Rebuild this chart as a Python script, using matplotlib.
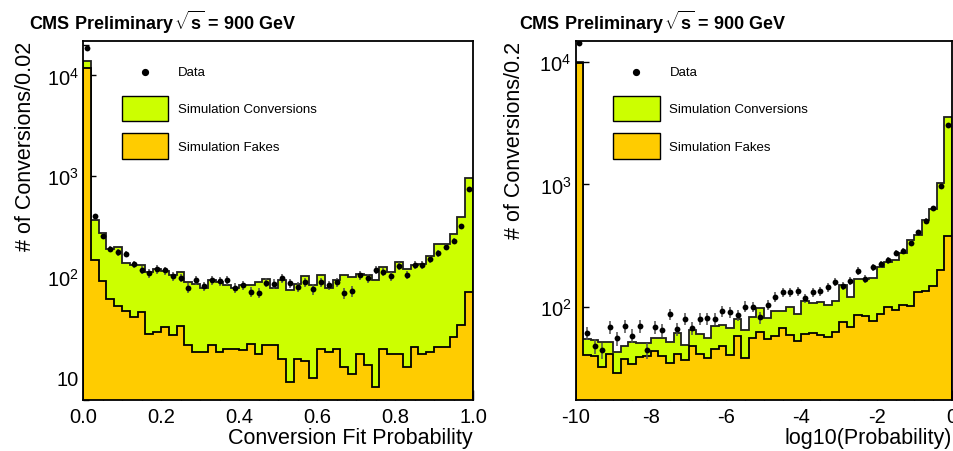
import numpy as np
import matplotlib
matplotlib.use("Agg")
import matplotlib.pyplot as plt
from matplotlib.patches import Patch
from matplotlib.lines import Line2D
from matplotlib.legend_handler import HandlerLine2D
from matplotlib.ticker import (FuncFormatter, MultipleLocator,
                               LogLocator, NullFormatter)

plt.rcParams['font.family'] = ['Liberation Sans', 'DejaVu Sans']
plt.rcParams['mathtext.fontset'] = 'custom'
plt.rcParams['mathtext.rm'] = 'Liberation Sans'
plt.rcParams['mathtext.it'] = 'Liberation Sans:italic'
plt.rcParams['mathtext.bf'] = 'Liberation Sans:bold'
plt.rcParams['axes.unicode_minus'] = False

# ---------------- data: left panel (Conversion Fit Probability, 50 bins 0..1)
left_range = (0.0, 1.0)
left_total = [13900, 366, 270, 191, 199, 139, 132, 132, 113, 119,
              115, 104, 111, 89, 86, 77, 93, 89, 83, 78,
              83, 83, 89, 95, 77, 93, 75, 86, 101, 84,
              104, 78, 93, 104, 100, 106, 104, 93, 126, 113,
              140, 119, 132, 134, 160, 211, 211, 266, 390, 960]
left_fakes = [11850, 147, 91, 60, 52, 46, 40, 45, 27, 28.4,
              32, 26.5, 32.5, 21, 18.1, 18.1, 21, 18, 19.1, 19.1,
              19, 21.5, 17.3, 21, 21, 15.4, 9.0, 15.4, 14.6, 10.0,
              19.4, 18.1, 19.1, 12.7, 10.9, 17.3, 13.3, 8.1, 19.1, 17.3,
              17.3, 12.7, 20.1, 17.3, 18.1, 20.1, 20.1, 25.3, 33.3, 71.5]
left_data = [18900, 405, 254, 190, 175, 169, 133, 117, 109, 119,
             116, 101, 98, 78, 93, 81, 93, 91, 93, 78,
             83, 71, 70, 88, 86, 97.7, 86.5, 79.5, 89.2, 75.5,
             89.2, 82.7, 89.2, 68.9, 72.1, 104, 97.7, 117, 112, 101,
             128, 105, 131.5, 131.5, 150, 171, 200, 226, 321, 746]

# ---------------- data: right panel (log10(Probability), 50 bins -10..0)
right_range = (-10.0, 0.0)
right_total = [10100, 54.4, 53.7, 51.7, 51.7, 42.4, 48.0, 51.7, 50.5, 50.5,
               55.1, 55.5, 51.7, 61.0, 48.9, 64.9, 59.8, 55.5, 69.0, 71.3,
               66.6, 79.5, 64.5, 82.8, 97.6, 80.4, 92.7, 91.7, 98.9, 87.1,
               110.7, 107.2, 109.9, 103.3, 112, 151.4, 119.4, 168.6, 168.6, 170.6,
               212.4, 230.7, 239.9, 274.9, 353.2, 386.4, 515, 630, 1023, 3548]
right_fakes = [9900, 40.5, 39.7, 31.9, 41.5, 29.0, 37.3, 34.0, 39.2, 39.7,
               43.7, 39.7, 34.6, 41.5, 36.6, 47.4, 41.0, 37.8, 45.0, 48.0,
               40.3, 57.3, 37.8, 55.1, 62.5, 55, 57.3, 66.6, 58.7, 52.2,
               59.4, 60.5, 58.7, 56.2, 61.7, 75.4, 67.8, 85.5, 83.4, 76.8,
               87.1, 98.9, 94.6, 103.3, 100.7, 131, 135, 147, 201, 381]
right_data = [14300, 61.0, 48.0, 44.2, 68.0, 55.1, 69.0, 57.9, 69.8, 44.2,
              68.0, 64.9, 87.1, 65.8, 79.5, 66.8, 79.5, 80.4, 79.5, 92.7,
              90.9, 85.5, 100.5, 100, 81.8, 103.8, 120.8, 131, 131, 133.6,
              117.2, 131, 133.6, 144, 160, 148.5, 163, 196, 168.6, 210,
              223.6, 241, 277, 287, 332, 406, 506, 643, 966, 3083]

title_text = r"CMS Preliminary$\,\mathbf{\sqrt{s}}$ = 900 GeV"
legend_labels = ["Data", "Simulation Conversions", "Simulation Fakes"]

GREEN = '#ccff00'
ORANGE = '#ffcc00'

fig = plt.figure(figsize=(9.54, 4.52), dpi=100)
W, H = 954.0, 452.0
axL = fig.add_axes([83 / W, 1 - 401 / H, 390 / W, 359 / H])
axR = fig.add_axes([575.7 / W, 1 - 401 / H, 376.3 / W, 359 / H])


class DotHandler(HandlerLine2D):
    """Legend dot centred on the text row."""
    def create_artists(self, legend, orig_handle, xdescent, ydescent, width,
                       height, fontsize, trans):
        arts = super().create_artists(legend, orig_handle, xdescent, ydescent,
                                      width, height, fontsize, trans)
        for a in arts:
            a.set_ydata(np.asarray(a.get_ydata(), float) - 0.38 * fontsize)
        return arts


def ylab_fmt(v, pos):
    e = int(round(np.log10(v)))
    if e == 1:
        return "10"
    return r"$10^{%d}$" % e


def draw(ax, rng, total, fakes, data, ylim, xmajor, xminor, xlabel, ylabel,
         ylabx):
    nb = len(total)
    edges = np.linspace(rng[0], rng[1], nb + 1)
    centers = 0.5 * (edges[:-1] + edges[1:])
    total = np.asarray(total, float)
    fakes = np.asarray(fakes, float)
    data = np.asarray(data, float)
    base = ylim[0] * 0.3
    ax.stairs(total, edges, baseline=base, fill=True, color=GREEN, lw=0,
              zorder=1)
    ax.stairs(total, edges, baseline=base, fill=False, color='#202020',
              lw=1.3, zorder=2)
    ax.stairs(fakes, edges, baseline=base, fill=True, color=ORANGE, lw=0,
              zorder=3)
    ax.stairs(fakes, edges, baseline=base, fill=False, color='black',
              lw=1.3, zorder=4)
    ax.errorbar(centers, data, yerr=np.sqrt(data), fmt='o', color='black',
                ms=4.2, mew=0, ecolor='#505050', elinewidth=1.1, capsize=0,
                zorder=6)
    ax.set_yscale('log')
    ax.set_xlim(*rng)
    ax.set_ylim(*ylim)
    ax.xaxis.set_major_locator(MultipleLocator(xmajor))
    ax.xaxis.set_minor_locator(MultipleLocator(xminor))
    ax.yaxis.set_major_locator(LogLocator(base=10, numticks=10))
    ax.yaxis.set_minor_locator(LogLocator(base=10, subs=np.arange(2, 10),
                                          numticks=20))
    ax.yaxis.set_major_formatter(FuncFormatter(ylab_fmt))
    ax.yaxis.set_minor_formatter(NullFormatter())
    ax.tick_params(axis='both', which='both', direction='in', top=False,
                   right=False, labelsize=14.5, width=1.0)
    ax.tick_params(axis='y', which='major', length=9, pad=3)
    ax.tick_params(axis='y', which='minor', length=4.5)
    ax.tick_params(axis='x', which='major', length=7.5, pad=5)
    ax.tick_params(axis='x', which='minor', length=3.8)
    for s in ax.spines.values():
        s.set_linewidth(1.3)
        s.set_zorder(10)
    ax.set_xlabel(xlabel, loc='right', fontsize=15.5)
    ax.xaxis.set_label_coords(1.0, -0.075)
    ax.set_ylabel(ylabel, loc='top', fontsize=15.5)
    ax.yaxis.set_label_coords(ylabx, 1.0)
    dot = Line2D([], [], marker='o', color='black', ls='none', ms=4.2)
    handles = [dot,
               Patch(facecolor=GREEN, edgecolor='black', lw=1.0),
               Patch(facecolor=ORANGE, edgecolor='black', lw=1.0)]
    ax.legend(handles, legend_labels, loc='upper left',
              bbox_to_anchor=(0.1, 0.952), frameon=False, fontsize=9.5,
              handlelength=3.5, handleheight=2.6, labelspacing=0.9,
              handletextpad=0.75, borderpad=0, borderaxespad=0,
              handler_map={dot: DotHandler()})


draw(axL, left_range, left_total, left_fakes, left_data, (6.0, 22000),
     0.2, 0.05, "Conversion Fit Probability", "# of Conversions/0.02", -0.12)
draw(axR, right_range, right_total, right_fakes, right_data, (17.3, 14860),
     2, 0.5, "log10(Probability)", "# of Conversions/0.2", -0.135)
axL.xaxis.set_major_formatter(FuncFormatter(lambda v, p: "%.1f" % v))
axR.xaxis.set_major_formatter(FuncFormatter(lambda v, p: "%d" % round(v)))

fig.text(29 / W, 1 - 22 / H, title_text, fontsize=13, fontweight='bold',
         va='center', ha='left')
fig.text(519 / W, 1 - 22 / H, title_text, fontsize=13, fontweight='bold',
         va='center', ha='left')

fig.savefig("out.png", dpi=100)
